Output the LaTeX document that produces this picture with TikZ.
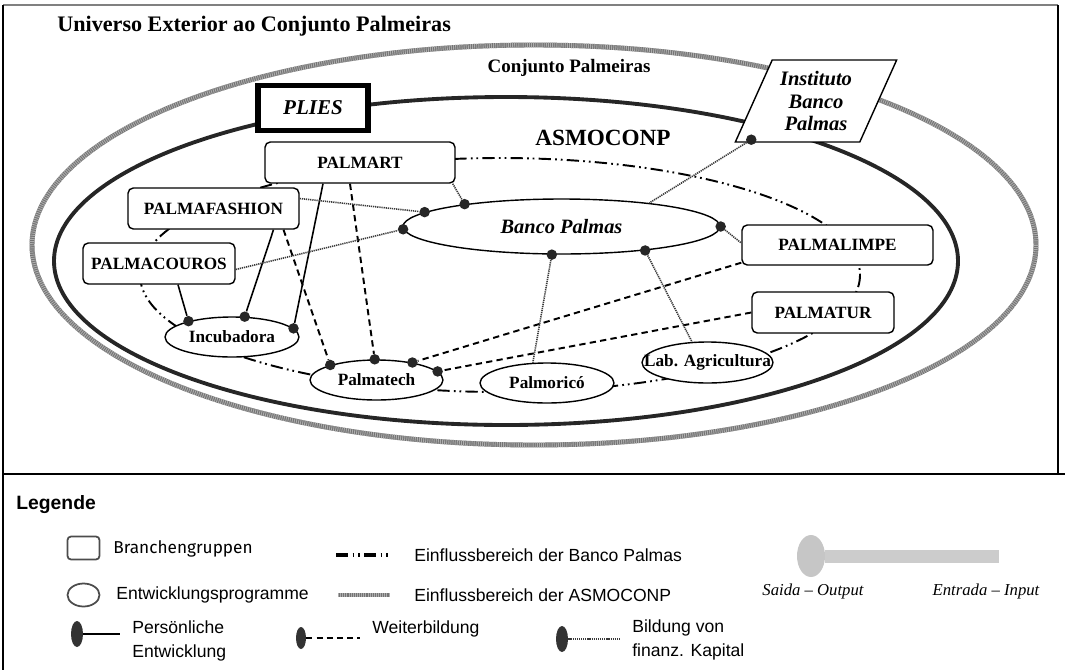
\documentclass[tikz,border=0pt]{standalone}
\usepackage{fontspec}
\setmainfont{Liberation Serif}
\newfontfamily\legfont{Liberation Sans}
\newfontfamily\branchfont{Fira Sans}
\usepackage{tikz}
\usetikzlibrary{shapes.geometric,calc}

\tikzset{
	box/.style={draw, rounded corners=3pt, fill=white, line width=0.8pt, inner sep=0pt, font=\bfseries\fontsize{9.8}{11}\selectfont},
	prog/.style={draw, ellipse, fill=white, line width=0.8pt, inner sep=0pt, font=\bfseries\fontsize{9.8}{11}\selectfont},
	dotnode/.style={circle, fill=black!85, inner sep=0pt, minimum size=0.21cm},
	persline/.style={line width=0.9pt},
	weiterline/.style={line width=1.1pt, dash pattern=on 3.6pt off 2.4pt},
	finline/.style={line width=0.9pt, gray!45!black, dash pattern=on 0.7pt off 0.5pt},
	bpline/.style={line width=1.1pt, dash pattern=on 7pt off 2.4pt on 1pt off 2.2pt on 1pt off 2.4pt},
	asmoline/.style={line width=2.8pt, black!55, postaction={draw, black!32, line width=2.8pt, dash pattern=on 0.5pt off 0.7pt}},
	legtext/.style={anchor=west, font=\legfont\fontsize{10}{13.5}\selectfont, inner sep=0pt}
}

\begin{document}
\begin{tikzpicture}[x=0.02cm, y=-0.02cm]
			\useasboundingbox (0,0) rectangle (1065,670);
			
			\draw[gray, line width=1.1pt] (3,5) -- (1058,5);
			\draw[line width=1pt] (3,5) -- (3,670);
			\draw[line width=1pt] (1058,5) -- (1058,474);
			\draw[line width=1.6pt] (3,474) -- (1065,474);
			
			\draw[asmoline] (534,245) ellipse [x radius=502, y radius=200];
			\draw[line width=2.2pt, black!85] (506,261) ellipse [x radius=452, y radius=164];
			\draw[bpline] (500,275) ellipse [x radius=360, y radius=117];
			
			\node[anchor=base west, inner sep=0pt, font=\bfseries\fontsize{12.6}{15}\selectfont] (titel) at (57,31) {Universo Exterior ao Conjunto Palmeiras};
			\node[anchor=base, inner sep=0pt, font=\bfseries\fontsize{10.8}{13}\selectfont] (conj) at (569,72) {Conjunto Palmeiras};
			\node[anchor=base, inner sep=0pt, font=\bfseries\fontsize{13.2}{16}\selectfont] (asmo) at (603,145) {ASMOCONP};
			
			\node[draw, fill=white, line width=3pt, minimum width=2.2cm, minimum height=0.9cm, font=\bfseries\itshape\fontsize{12}{14}\selectfont] (plies) at (313,108) {PLIES};
			\node[draw, fill=white, line width=0.8pt, trapezium, trapezium left angle=63, trapezium right angle=117, trapezium stretches=true, minimum width=3.24cm, minimum height=1.64cm, inner sep=0pt, align=center, font=\bfseries\itshape\fontsize{11.7}{12.8}\selectfont] (inst) at (816,101) {Instituto\\Banco\\Palmas};
			
			\node[box, minimum width=3.8cm, minimum height=0.82cm] (palmart) at (360,162.5) {PALMART};
			\node[box, minimum width=3.42cm, minimum height=0.82cm] (pfashion) at (213.5,208.5) {PALMAFASHION};
			\node[box, minimum width=3.04cm, minimum height=0.82cm] (pcouros) at (159,263.5) {PALMACOUROS};
			\node[box, minimum width=3.82cm, minimum height=0.8cm] (plimpe) at (837.5,245) {PALMALIMPE};
			\node[box, minimum width=2.84cm, minimum height=0.82cm] (ptur) at (823,312.5) {PALMATUR};
			
			\node[prog, minimum width=6.34cm, minimum height=1.1cm, font=\bfseries\itshape\fontsize{11.6}{13}\selectfont] (banco) at (561.5,226.5) {Banco Palmas};
			\node[prog, minimum width=2.68cm, minimum height=0.8cm] (incub) at (232,337) {Incubadora};
			\node[prog, minimum width=2.66cm, minimum height=0.8cm] (ptech) at (376.5,380) {Palmatech};
			\node[prog, minimum width=2.68cm, minimum height=0.8cm] (pmoric) at (547,383) {Palmoricó};
			\node[prog, minimum width=2.62cm, minimum height=0.82cm] (labagr) at (707.5,362.5) {\makebox[0pt]{Lab. Agricultura}};
			
			\node[dotnode] (iA) at (incub.160) {};
			\node[dotnode] (iB) at (incub.58) {};
			\node[dotnode] (iC) at (incub.8) {};
			\draw[persline] ($(pcouros.south)+(19,0)$) -- (iA);
			\draw[persline] ($(pfashion.south)+(60,0)$) -- (iB);
			\draw[persline] ($(palmart.south)+(-37,0)$) -- (iC);
			
			\node[dotnode] (tA) at (ptech.162) {};
			\node[dotnode] (tB) at (ptech.95) {};
			\node[dotnode] (tC) at (ptech.26) {};
			\node[dotnode] (tD) at (ptech.8) {};
			\draw[weiterline] ($(pfashion.south)+(70,0)$) -- (tA);
			\draw[weiterline] ($(palmart.south)+(-10,0)$) -- (tB);
			\draw[weiterline] ($(plimpe.south west)+(0,-3)$) -- (tC);
			\draw[weiterline] (ptur.west) -- (tD);
			
			\node[dotnode] (b1) at (banco.167) {};
			\node[dotnode] (b2) at (banco.174) {};
			\node[dotnode] (b3) at (banco.181) {};
			\node[dotnode] (b4) at (banco.0) {};
			\node[dotnode] (b5) at (banco.-16) {};
			\node[dotnode] (b6) at (banco.-109) {};
			\node[dotnode] (idot) at ($(inst.bottom left corner)+(17,-3)$) {};
			\draw[finline] ($(palmart.south east)+(-3,0)$) -- (b1);
			\draw[finline] ($(pfashion.east)+(0,-10)$) -- (b2);
			\draw[finline] ($(pcouros.east)+(0,6)$) -- (b3);
			\draw[finline] (b4) -- ($(plimpe.west)+(0,-2)$);
			\draw[finline] (b5) -- (labagr.127);
			\draw[finline] (b6) -- (pmoric.125);
			\draw[finline] (idot) -- (banco.15);
			
			\node[anchor=west, inner sep=0pt, font=\legfont\bfseries\fontsize{11}{13}\selectfont] (leg) at (16,505) {Legende};
			
			\node[draw=gray!60!black, rounded corners=2pt, line width=1pt, minimum width=0.64cm, minimum height=0.46cm] (lbox) at (83.5,548) {};
			\node[legtext, font=\branchfont\fontsize{9.8}{12}\selectfont] (lboxt) at (113,549) {Branchengruppen};
			\node[draw=gray!60!black, ellipse, line width=1pt, minimum width=0.64cm, minimum height=0.46cm] (lell) at (83.5,595) {};
			\node[legtext] (lellt) at (116,595) {Entwicklungsprogramme};
			
			\node[ellipse, fill=black!80, inner sep=0pt, minimum width=0.24cm, minimum height=0.52cm] (lpdot) at (77,634) {};
			\coordinate (lpend) at (120,634);
			\draw[line width=1.6pt] (lpdot) -- (lpend);
			\node[legtext, align=left] (lpt) at (132,641) {Persönliche\\Entwicklung};
			
			\coordinate (lbpa) at (336,555);
			\coordinate (lbpb) at (388,555);
			\draw[bpline, line width=1.8pt] (lbpa) -- (lbpb);
			\node[legtext] (lbpt) at (414,555) {Einflussbereich der Banco Palmas};
			\coordinate (lasa) at (338,595);
			\coordinate (lasb) at (390,595);
			\draw[asmoline] (lasa) -- (lasb);
			\node[legtext] (last) at (414,595) {Einflussbereich der ASMOCONP};
			
			\node[ellipse, fill=black!80, inner sep=0pt, minimum width=0.2cm, minimum height=0.44cm] (lwdot) at (301,638) {};
			\coordinate (lwend) at (360,638);
			\draw[line width=1.6pt, dash pattern=on 3.4pt off 2.4pt] (lwdot) -- (lwend);
			\node[legtext] (lwt) at (372,629) {Weiterbildung};
			
			\node[ellipse, fill=black!80, inner sep=0pt, minimum width=0.24cm, minimum height=0.52cm] (lfdot) at (562,639) {};
			\coordinate (lfend) at (620,639);
			\draw[finline, line width=1.2pt] (lfdot) -- (lfend);
			\node[legtext, align=left] (lft) at (632,640) {Bildung von\\finanz. Kapital};
			
			\node[ellipse, fill=gray!45, inner sep=0pt, minimum width=0.56cm, minimum height=0.84cm] (lgdot) at (811,556) {};
			\coordinate (lgend) at (999,556);
			\draw[gray!40, line width=0.26cm] (lgdot.east) -- (lgend);
			\node[font=\itshape\fontsize{9.5}{11}\selectfont] (lout) at (813,591) {Saida -- Output};
			\node[font=\itshape\fontsize{9.5}{11}\selectfont] (lin) at (986,591) {Entrada -- Input};
											
		\end{tikzpicture}
\end{document}
